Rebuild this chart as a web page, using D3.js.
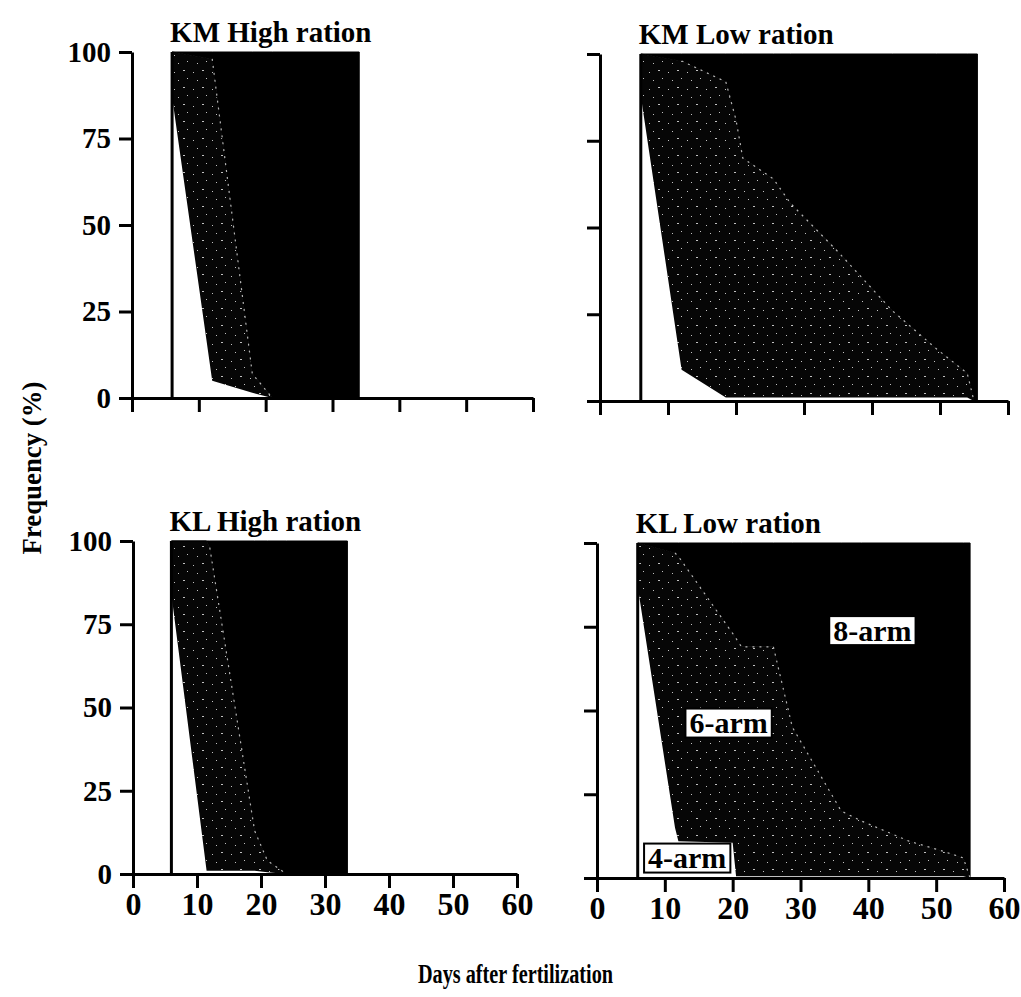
<!DOCTYPE html>
<html>
<head>
<meta charset="utf-8">
<script src="https://cdn.jsdelivr.net/npm/d3@7"></script>
<style>
  body { margin: 0; background: #fff; }
  text { font-family: "Liberation Serif", "Times New Roman", serif; }
</style>
</head>
<body>
<script>
// --- values: % of larvae at each arm stage by day ---
const xTicks = [0, 10, 20, 30, 40, 50, 60];
const yTicks = [0, 25, 50, 75, 100];
const stages = ["four", "six", "eight"];
const stageLabels = ["4-arm", "6-arm", "8-arm"];

const kmHighDays  = [6, 12, 18, 21, 34];
const kmHighFour  = [87, 5, 1.5, 0, 0];
const kmHighSix   = [13, 93, 5.5, 0, 0];
const kmHighEight = [0, 2, 93, 100, 100];

const kmLowDays  = [6, 12, 18.5, 20, 21, 25.5, 28, 35, 43, 49.5, 54, 55, 55.5];
const kmLowFour  = [88, 9, 1, 1, 1, 1, 1, 1, 1, 1, 1, 0, 0];
const kmLowSix   = [12, 89, 91, 80, 69, 63, 56, 42, 25, 14, 7, 0, 0];
const kmLowEight = [0, 2, 8, 19, 30, 36, 43, 57, 74, 85, 92, 100, 100];

const klHighDays  = [6, 11.5, 12, 19, 21, 24, 33.5];
const klHighFour  = [84, 1, 1, 1, 0.5, 0, 0];
const klHighSix   = [16, 99, 97, 12, 3.5, 0, 0];
const klHighEight = [0, 0, 2, 87, 96, 100, 100];

const klLowDays  = [6, 11.5, 12, 20, 20.5, 21.3, 26, 28.8, 36, 39, 46, 51, 54, 55];
const klLowFour  = [87, 15, 11, 10.5, 0.5, 0.5, 0.5, 0.5, 0.5, 0.5, 0.5, 0.5, 0.5, 0];
const klLowSix   = [13, 82, 85, 62.5, 71, 68.5, 68.5, 44.5, 19.5, 16.5, 10.5, 7.5, 5.5, 0];
const klLowEight = [0, 3, 4, 27, 28.5, 31, 31, 55, 80, 83, 89, 92, 94, 100];

// --- panel placement (pixels) ---
const panels = [
  {title: "KM High ration", days: kmHighDays, four: kmHighFour, six: kmHighSix, eight: kmHighEight,
   xr: [132, 533], yr: [398, 52], xLab: false, yLab: true},
  {title: "KM Low ration", days: kmLowDays, four: kmLowFour, six: kmLowSix, eight: kmLowEight,
   xr: [600, 1008], yr: [401, 54], xLab: false, yLab: false},
  {title: "KL High ration", days: klHighDays, four: klHighFour, six: klHighSix, eight: klHighEight,
   xr: [133, 517], yr: [874, 541], xLab: true, yLab: true},
  {title: "KL Low ration", days: klLowDays, four: klLowFour, six: klLowSix, eight: klLowEight,
   xr: [597, 1004], yr: [878, 543], xLab: true, yLab: false,
   // label anchors in data units (day, %)
   notes: [[13.3, 6.1], [19.4, 46.4], [40.6, 74]]}
];

const svg = d3.select("body").append("svg")
  .attr("width", 1021).attr("height", 997);

svg.append("rect").attr("width", 1021).attr("height", 997).attr("fill", "#fff");

// speckled dark fill for the 6-arm band
const pat = svg.append("defs").append("pattern")
  .attr("id", "speckle").attr("width", 19).attr("height", 17)
  .attr("patternUnits", "userSpaceOnUse");
pat.append("rect").attr("width", 19).attr("height", 17).attr("fill", "#060606");
[[3, 4, 1, 1], [12, 2, 2, 1], [7, 12, 1, 1], [16, 10, 1, 1]].forEach(d => {
  pat.append("rect").attr("x", d[0]).attr("y", d[1]).attr("width", d[2]).attr("height", d[3])
    .attr("fill", "#fff").attr("opacity", 0.75);
});

const fills = {four: "#fff", six: "url(#speckle)", eight: "#000"};

panels.forEach(p => {
  const x = d3.scaleLinear().domain([0, 60]).range(p.xr);
  const y = d3.scaleLinear().domain([0, 100]).range(p.yr);
  const g = svg.append("g");

  const rows = p.days.map((d, i) => ({day: d, four: p.four[i], six: p.six[i], eight: p.eight[i]}));
  const series = d3.stack().keys(stages)(rows);

  const area = d3.area()
    .x(d => x(d.data.day))
    .y0(d => y(d[0]))
    .y1(d => y(d[1]));

  g.selectAll(".layer")
    .data(series)
    .enter().append("path")
      .attr("d", area)
      .attr("fill", d => fills[d.key])
      .attr("stroke", d => d.key === "eight" ? "#000" : "none")
      .attr("stroke-width", 1);

  // faint dashed boundary between 6-arm and 8-arm
  const top6 = series[1];
  let s = 0;
  top6.forEach((d, i) => { if (d[1] >= 97) s = i; });
  let e = top6.findIndex(d => d[1] <= 0.5);
  if (e < 0) e = top6.length - 1;
  g.append("path")
    .datum(top6.slice(s, e + 1))
    .attr("d", d3.line().x(d => x(d.data.day)).y(d => y(d[1])))
    .attr("fill", "none")
    .attr("stroke", "#fff")
    .attr("stroke-width", 1.2)
    .attr("stroke-dasharray", "2,5")
    .attr("opacity", 0.7);

  // left edge of the white 4-arm wedge
  g.append("line")
    .attr("x1", x(p.days[0])).attr("x2", x(p.days[0]))
    .attr("y1", y(0)).attr("y2", y(100))
    .attr("stroke", "#000").attr("stroke-width", 3);

  // axes
  const yAxis = g.append("g")
    .attr("transform", `translate(${x(0)},0)`)
    .call(d3.axisLeft(y).tickValues(yTicks).tickSize(13).tickSizeOuter(0).tickPadding(8)
      .tickFormat(p.yLab ? d3.format("d") : ""));
  const xAxis = g.append("g")
    .attr("transform", `translate(0,${y(0)})`)
    .call(d3.axisBottom(x).tickValues(xTicks).tickSize(14).tickSizeOuter(0).tickPadding(4)
      .tickFormat(p.xLab ? d3.format("d") : ""));

  [yAxis, xAxis].forEach(a => {
    a.selectAll("path, line").attr("stroke", "#000").attr("stroke-width", 3);
    a.selectAll("text")
      .attr("fill", "#000")
      .style("font-family", '"Liberation Serif", "Times New Roman", serif')
      .style("font-weight", "bold");
  });
  yAxis.selectAll("text").style("font-size", "29px");
  xAxis.selectAll("text").style("font-size", "32px");

  // panel title
  g.append("text")
    .attr("x", x(p.days[0]) - 2)
    .attr("y", y(100) - 10)
    .style("font-size", "29px")
    .style("font-weight", "bold")
    .text(p.title);

  // stage labels in white boxes
  if (p.notes) {
    p.notes.forEach((n, i) => {
      const lg = g.append("g");
      const t = lg.append("text")
        .attr("x", x(n[0])).attr("y", y(n[1]))
        .attr("dy", "0.35em")
        .attr("text-anchor", "middle")
        .style("font-size", "30px")
        .style("font-weight", "bold")
        .text(stageLabels[i]);
      const bb = t.node().getBBox();
      lg.insert("rect", "text")
        .attr("x", bb.x - 4).attr("y", y(n[1]) - 14)
        .attr("width", bb.width + 8).attr("height", 29)
        .attr("fill", "#fff").attr("stroke", "#000").attr("stroke-width", 2);
    });
  }
});

// shared axis titles
svg.append("text")
  .attr("transform", "translate(41,468) rotate(-90)")
  .attr("text-anchor", "middle")
  .attr("textLength", 173)
  .attr("lengthAdjust", "spacingAndGlyphs")
  .style("font-size", "28px")
  .style("font-weight", "bold")
  .text("Frequency (%)");

svg.append("text")
  .attr("x", 418).attr("y", 983)
  .attr("textLength", 195)
  .attr("lengthAdjust", "spacingAndGlyphs")
  .style("font-size", "27px")
  .style("font-weight", "bold")
  .text("Days after fertilization");
</script>
</body>
</html>
